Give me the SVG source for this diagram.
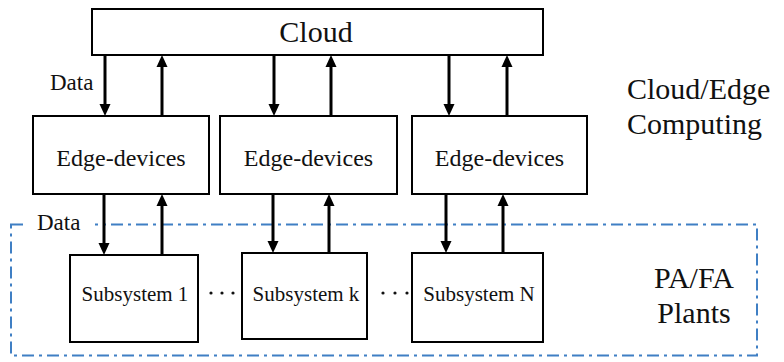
<svg xmlns="http://www.w3.org/2000/svg" width="784" height="362" viewBox="0 0 784 362">
<defs>
<style>
.box{fill:#fff;stroke:#000;stroke-width:2}
text{font-family:'Liberation Serif','Times New Roman','DejaVu Serif',serif;fill:#111}
.arr{stroke:#000;stroke-width:3;fill:none;marker-end:url(#ah)}
.zone{fill:none;stroke:#3f7fc4;stroke-width:2;stroke-dasharray:12 5 3 5}
</style>
<marker id="ah" markerUnits="userSpaceOnUse" markerWidth="12" markerHeight="13" viewBox="0 0 12 13" refX="4" refY="6.5" orient="auto">
<path d="M0,1 L12,6.5 L0,12 Z" fill="#000"/>
</marker>
</defs>
<rect width="784" height="362" fill="#fff"/>
<g id="zone">
<rect class="zone" x="11" y="224.5" width="746" height="131"/>
<rect x="25" y="212" width="70" height="22" fill="#fff"/>
<text font-family="Liberation Serif, serif" x="37" y="230" font-size="23">Data</text>
</g>
<g id="cloud">
<rect class="box" x="92" y="9" width="451" height="46"/>
<text font-family="Liberation Serif, serif" x="316" y="42" font-size="30" text-anchor="middle">Cloud</text>
</g>
<g id="edge1">
<rect class="box" x="33" y="116" width="176" height="78"/>
<text font-family="Liberation Serif, serif" x="121" y="166" font-size="24" text-anchor="middle">Edge-devices</text>
</g>
<g id="edge2">
<rect class="box" x="220" y="116" width="177" height="78"/>
<text font-family="Liberation Serif, serif" x="308.5" y="166" font-size="24" text-anchor="middle">Edge-devices</text>
</g>
<g id="edge3">
<rect class="box" x="412" y="116" width="175" height="78"/>
<text font-family="Liberation Serif, serif" x="499.5" y="166" font-size="24" text-anchor="middle">Edge-devices</text>
</g>
<g id="sub1">
<rect class="box" x="70" y="255" width="128" height="87"/>
<text font-family="Liberation Serif, serif" x="135" y="301" font-size="21" text-anchor="middle">Subsystem 1</text>
</g>
<g id="subk">
<rect class="box" x="242" y="253" width="125" height="86"/>
<text font-family="Liberation Serif, serif" x="306" y="301" font-size="21" text-anchor="middle">Subsystem k</text>
</g>
<g id="subN">
<rect class="box" x="412" y="253" width="131" height="89"/>
<text font-family="Liberation Serif, serif" x="479" y="301" font-size="21" text-anchor="middle">Subsystem N</text>
</g>
<g id="dots" fill="#111">
<circle cx="211" cy="293" r="1.6"/><circle cx="222" cy="293" r="1.6"/><circle cx="233" cy="293" r="1.6"/>
<circle cx="383" cy="293" r="1.6"/><circle cx="395" cy="293" r="1.6"/><circle cx="407" cy="293" r="1.6"/>
</g>
<g id="labels">
<text font-family="Liberation Serif, serif" x="50" y="90" font-size="23">Data</text>
<text font-family="Liberation Serif, serif" x="627" y="99" font-size="30">Cloud/Edge</text>
<text font-family="Liberation Serif, serif" x="627" y="134" font-size="30">Computing</text>
<text font-family="Liberation Serif, serif" x="694" y="288" font-size="30" text-anchor="middle">PA/FA</text>
<text font-family="Liberation Serif, serif" x="694" y="323" font-size="30" text-anchor="middle">Plants</text>
</g>
<g id="connectors">
<line class="arr" x1="105" y1="56" x2="105" y2="108"/>
<line class="arr" x1="162" y1="115" x2="162" y2="63"/>
<line class="arr" x1="274" y1="56" x2="274" y2="108"/>
<line class="arr" x1="331" y1="115" x2="331" y2="63"/>
<line class="arr" x1="449" y1="56" x2="449" y2="108"/>
<line class="arr" x1="507" y1="115" x2="507" y2="63"/>
<line class="arr" x1="104" y1="195" x2="104" y2="247"/>
<line class="arr" x1="162" y1="254" x2="162" y2="202"/>
<line class="arr" x1="273" y1="195" x2="273" y2="245"/>
<line class="arr" x1="329" y1="252" x2="329" y2="202"/>
<line class="arr" x1="446" y1="195" x2="446" y2="245"/>
<line class="arr" x1="503" y1="252" x2="503" y2="202"/>
</g>
</svg>
